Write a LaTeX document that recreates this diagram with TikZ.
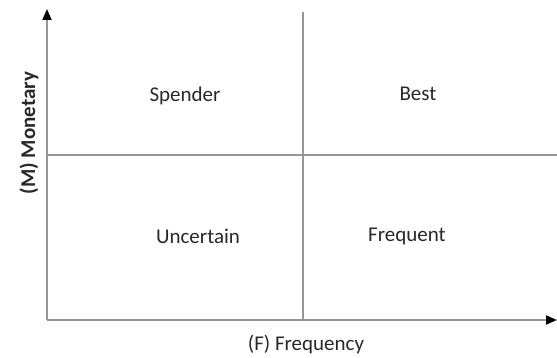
\documentclass[tikz,border=0pt]{standalone}
\usepackage{fontspec}
\setmainfont{Carlito}
\usetikzlibrary{arrows.meta}
\definecolor{axisgray}{RGB}{150,150,150}
\definecolor{txt}{RGB}{40,40,40}
\begin{document}
\begin{tikzpicture}[x=1pt,y=-1pt,
  axisline/.style={draw=axisgray,line width=1.8pt,-{Triangle[black,length=11pt,width=9pt]}},
  divline/.style={draw=axisgray,line width=1.5pt},
  lbl/.style={text=txt,font=\fontsize{21}{24}\selectfont,inner sep=0pt}]
\useasboundingbox (0,0) rectangle (557,358);
\coordinate (O) at (47,320);
\coordinate (ytop) at (47,9);
\coordinate (xend) at (557,320);
\coordinate (vtop) at (303,12);
\coordinate (vbot) at (303,320);
\coordinate (hl) at (47,155);
\coordinate (hr) at (557,155);
\draw[divline] (vtop) -- (vbot);
\draw[divline] (hl) -- (hr);
\draw[axisline] (O) -- (ytop);
\draw[axisline] (O) -- (xend);
\node[lbl] (spender) at (185,96) {Spender};
\node[lbl] (best) at (418,94) {Best};
\node[lbl] (uncertain) at (198,236) {Uncertain};
\node[lbl] (frequent) at (407,236) {Frequent};
\node[lbl] (flabel) at (306,345) {(F) Frequency};
\node[lbl,rotate=90,font=\fontsize{21}{24}\selectfont\bfseries] (mlabel) at (29,133) {(M) Monetary};
\end{tikzpicture}
\end{document}
